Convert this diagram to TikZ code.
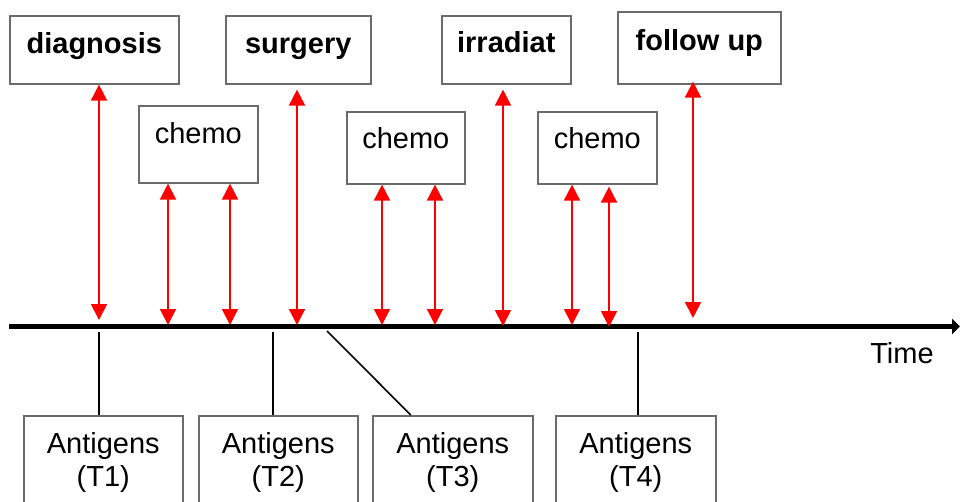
\documentclass[tikz,border=0pt]{standalone}
\usepackage{fontspec}
\setmainfont{Liberation Sans}
\usetikzlibrary{arrows.meta}
\definecolor{frame}{HTML}{6B6B6B}
\begin{document}
\begin{tikzpicture}[x=1pt,y=-1pt,
  box/.style={draw=frame, line width=1.6pt, inner sep=0pt, anchor=north west,
    font=\fontsize{29}{33}\selectfont},
  stage/.style={box, font=\fontsize{29}{33}\selectfont\bfseries},
  sample/.style={box, align=center, text height=71pt, text depth=100pt},
  event/.style={draw=red, line width=1.8pt,
    {Triangle[length=16pt,width=16pt]}-{Triangle[length=16pt,width=16pt]}},
  link/.style={draw=black, line width=1.6pt},
  timeline/.style={draw=black, line width=5pt, -{Triangle[length=8pt,width=15pt]}}
]
\useasboundingbox (0,0) rectangle (960,501);
\clip (0,0) rectangle (960,501);

% treatment stages
\node[stage, minimum width=169pt, text height=38pt, text depth=30pt] (diag) at (9,15) {diagnosis};
\node[stage, minimum width=145pt, text height=38pt, text depth=30pt] (surg) at (225,15) {surgery};
\node[stage, minimum width=129pt, text height=37pt, text depth=31pt] (irr) at (441,15) {irradiat};
\node[stage, minimum width=163pt, text height=39pt, text depth=33pt] (fup) at (617,11) {follow up};
\node[box, minimum width=119pt, text height=38pt, text depth=39pt] (c1) at (138,105) {chemo};
\node[box, minimum width=118pt, text height=37pt, text depth=35pt] (c2) at (346,111) {chemo};
\node[box, minimum width=119pt, text height=37pt, text depth=35pt] (c3) at (537,111) {chemo};

% time axis
\coordinate (axL) at (9,326.5);
\coordinate (axR) at (960,326.5);
\draw[timeline] (axL) -- (axR);
\node[font=\fontsize{29}{33}\selectfont, anchor=base, inner sep=0pt] (time) at (902,363) {Time};

% events on the axis
\coordinate (p1) at (99,326);
\coordinate (p2) at (168,326);
\coordinate (p3) at (230,326);
\coordinate (p4) at (297,326);
\coordinate (p5) at (382,326);
\coordinate (p6) at (435,326);
\coordinate (p7) at (503,326);
\coordinate (p8) at (572,326);
\coordinate (p9) at (609,326);
\coordinate (p10) at (693,326);

\draw[event, shorten >=6pt] (diag.south -| p1) -- (p1);
\draw[event, shorten >=1pt] (c1.south -| p2) -- (p2);
\draw[event, shorten >=1pt] (c1.south -| p3) -- (p3);
\draw[event, shorten <=5pt, shorten >=1pt] (surg.south -| p4) -- (p4);
\draw[event, shorten >=1pt] (c2.south -| p5) -- (p5);
\draw[event, shorten >=1pt] (c2.south -| p6) -- (p6);
\draw[event, shorten <=5pt] (irr.south -| p7) -- (p7);
\draw[event, shorten >=1pt] (c3.south -| p8) -- (p8);
\draw[event, shorten <=2pt, shorten >=-1pt] (c3.south -| p9) -- (p9);
\draw[event, shorten <=-3pt, shorten >=8pt] (fup.south -| p10) -- (p10);

% antigen samples
\node[sample, minimum width=159pt] (ag1) at (23,415) {Antigens\\(T1)};
\node[sample, minimum width=159pt] (ag2) at (198,415) {Antigens\\(T2)};
\node[sample, minimum width=160pt] (ag3) at (372,415) {Antigens\\(T3)};
\node[sample, minimum width=160pt] (ag4) at (555,415) {Antigens\\(T4)};

\coordinate (q1) at (99,332);
\coordinate (q2) at (273,332);
\coordinate (q3) at (327,331);
\coordinate (q4) at (638,332);
\draw[link] (q1) -- (ag1.north -| q1);
\draw[link] (q2) -- (ag2.north -| q2);
\draw[link] (q3) -- ([xshift=-42pt]ag3.north);
\draw[link] (q4) -- (ag4.north -| q4);
\end{tikzpicture}
\end{document}
